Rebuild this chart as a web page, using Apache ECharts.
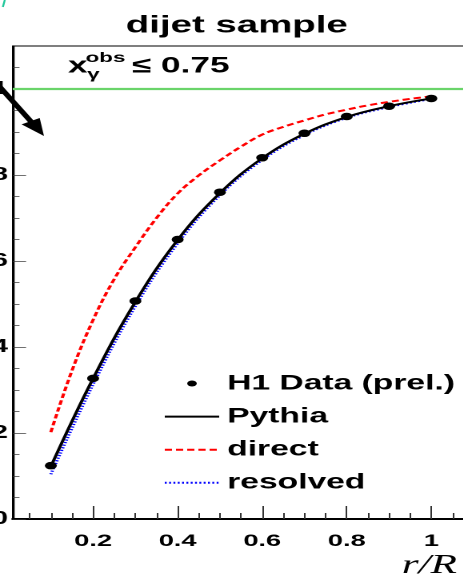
<!DOCTYPE html>
<html>
<head>
<meta charset="utf-8">
<script src="https://cdn.jsdelivr.net/npm/echarts@6/dist/echarts.min.js"></script>
<style>
  html, body { margin: 0; padding: 0; background: #fff; overflow: hidden; }
  /* the reference is stretched sideways, so the whole chart is drawn narrow and scaled */
  #c { width: 290px; height: 579px; transform: scaleX(1.6); transform-origin: 0 0; }
</style>
</head>
<body>
<div id="c"></div>
<script>
const xVals = [0.1, 0.2, 0.3, 0.4, 0.5, 0.6, 0.7, 0.8, 0.9, 1.0]
const h1Data = [0.124, 0.327, 0.507, 0.650, 0.760, 0.840, 0.897, 0.936, 0.960, 0.978]
const pythiaY = [0.122, 0.327, 0.505, 0.649, 0.758, 0.839, 0.896, 0.935, 0.960, 0.978]
const resolvedY = [0.104, 0.313, 0.495, 0.641, 0.753, 0.835, 0.893, 0.933, 0.958, 0.977]
const directX = [0.1, 0.15, 0.2, 0.25, 0.3, 0.35, 0.4, 0.45, 0.5, 0.55, 0.6, 0.65, 0.7, 0.75, 0.8, 0.85, 0.9, 0.95, 1.0]
const directY = [0.202, 0.345, 0.463, 0.558, 0.632, 0.700, 0.757, 0.799, 0.834, 0.866, 0.894, 0.912, 0.927, 0.941, 0.952, 0.962, 0.970, 0.977, 0.983]
const refLineY = 1.0

const xTicks = [0.2, 0.4, 0.6, 0.8, 1.0]
const xTickLabels = ['0.2', '0.4', '0.6', '0.8', '1']
const xMinorTicks = [0.05, 0.1, 0.15, 0.25, 0.3, 0.35, 0.45, 0.5, 0.55, 0.65, 0.7, 0.75, 0.85, 0.9, 0.95, 1.05]
const yTicks = [0, 0.2, 0.4, 0.6, 0.8, 1.0]
const yTickLabels = ['0', '0.2', '0.4', '0.6', '0.8', '1']
const yMinorTicks = [0.05, 0.1, 0.15, 0.25, 0.3, 0.35, 0.45, 0.5, 0.55, 0.65, 0.7, 0.75, 0.85, 0.9, 0.95, 1.05]

const names = ['H1 Data (prel.)', 'Pythia', 'direct', 'resolved']
const FONT = '"Liberation Sans", Arial, sans-serif'

function pick(ticks, labels) {
  return v => {
    let best = 0
    ticks.forEach((t, i) => { if (Math.abs(t - v) < Math.abs(ticks[best] - v)) best = i })
    return labels[best]
  }
}
const zip = (xs, ys) => xs.map((x, i) => [x, ys[i]])

const chart = echarts.init(document.getElementById('c'), null, { renderer: 'canvas', devicePixelRatio: 2 })

const minorAxis = {
  type: 'value', min: 0.01, max: 1.1,
  axisLine: { show: false },
  axisLabel: { show: false },
  splitLine: { show: false }
}

chart.setOption({
  animation: false,
  backgroundColor: '#fff',
  title: {
    text: 'dijet sample',
    left: 143, top: 9, textAlign: 'center',
    textStyle: { fontFamily: FONT, fontWeight: 'bold', fontSize: 24, color: '#000' }
  },
  grid: {
    left: 8, width: 288, top: 46, bottom: 60,
    outerBoundsMode: 'none', containLabel: false,
    show: true, borderColor: '#000', borderWidth: 1, backgroundColor: 'transparent'
  },
  legend: {
    orient: 'vertical', left: 97, top: 368,
    itemWidth: 34, itemHeight: 6, itemGap: 12.1,
    selectedMode: false,
    data: [
      { name: names[0] },
      { name: names[1], itemStyle: { opacity: 0 } },
      { name: names[2], itemStyle: { opacity: 0 } },
      { name: names[3], itemStyle: { opacity: 0 } }
    ],
    textStyle: { fontFamily: FONT, fontWeight: 'bold', fontSize: 21, color: '#000' }
  },
  xAxis: [
    {
      type: 'value', min: 0.01, max: 1.1, position: 'bottom',
      axisLine: { onZero: false, lineStyle: { color: '#000', width: 2 } },
      axisTick: { inside: true, length: 13, customValues: xTicks, lineStyle: { color: '#333', width: 1 } },
      axisLabel: {
        customValues: xTicks, formatter: pick(xTicks, xTickLabels), margin: 14,
        fontFamily: FONT, fontWeight: 'bold', fontSize: 17, color: '#000'
      },
      splitLine: { show: false }
    },
    Object.assign({}, minorAxis, {
      position: 'bottom',
      axisTick: { inside: true, length: 6, customValues: xMinorTicks, lineStyle: { color: '#333', width: 1 } }
    })
  ],
  yAxis: [
    {
      type: 'value', min: 0, max: 1.1, position: 'left',
      axisLine: { onZero: false, lineStyle: { color: '#000', width: 1.3 } },
      axisTick: { inside: true, length: 8.3, customValues: yTicks, lineStyle: { color: '#333', width: 0.7 } },
      axisLabel: {
        customValues: yTicks, formatter: pick(yTicks, yTickLabels), margin: 3,
        fontFamily: FONT, fontWeight: 'bold', fontSize: 18, color: '#000'
      },
      splitLine: { show: false }
    },
    Object.assign({}, minorAxis, {
      min: 0, position: 'left',
      axisTick: { inside: true, length: 4.2, customValues: yMinorTicks, lineStyle: { color: '#333', width: 0.7 } }
    })
  ],
  graphic: [
    { type: 'line', shape: { x1: 1.8, y1: 7, x2: 3, y2: 0 }, style: { stroke: '#1fc79a', lineWidth: 1.2 } },
    { type: 'text', x: 42.5, y: 55.5, style: { text: 'x', font: 'bold 22px ' + FONT, fill: '#000', verticalAlign: 'top' } },
    { type: 'text', x: 53.5, y: 51.2, style: { text: 'obs', font: 'bold 14px ' + FONT, fill: '#000', verticalAlign: 'top' } },
    { type: 'text', x: 54.5, y: 67.5, style: { text: 'γ', font: 'bold 14px ' + FONT, fill: '#000', verticalAlign: 'top' } },
    { type: 'text', x: 82.5, y: 55.5, style: { text: '≤ 0.75', font: 'bold 22px ' + FONT, fill: '#000', verticalAlign: 'top' } },
    { type: 'text', x: 285.6, y: 552.5, style: { text: 'r/R', font: 'italic 27px "Liberation Serif", "Times New Roman", serif', fill: '#000', align: 'right', verticalAlign: 'top' } }
  ],
  series: [
    {
      name: 'ref', type: 'line', z: 1, silent: true, clip: false,
      symbol: 'none',
      data: [[0.01, refLineY], [1.1, refLineY]],
      lineStyle: { color: '#6ad46a', width: 2.2 },
      markLine: {
        silent: true,
        symbol: ['none', 'triangle'],
        symbolSize: [13, 17],
        label: { show: false },
        lineStyle: { color: '#000', width: 3.8, type: 'solid' },
        data: [[{ x: -4, y: 80 }, { coord: [0.068, 0.908] }]]
      }
    },
    {
      name: 'Pythia', type: 'line', z: 3, symbol: 'none', smooth: 0.4,
      data: zip(xVals, pythiaY),
      itemStyle: { color: '#000' },
      lineStyle: { color: '#000', width: 2 }
    },
    {
      name: 'direct', type: 'line', z: 2, symbol: 'none', smooth: 0.4,
      data: zip(directX, directY),
      itemStyle: { color: '#ff0000' },
      lineStyle: { color: '#ff0000', width: 2, type: [4.5, 2.5] }
    },
    {
      name: 'resolved', type: 'line', z: 2, symbol: 'none', smooth: 0.4,
      data: zip(xVals, resolvedY),
      itemStyle: { color: '#0000ff' },
      lineStyle: { color: '#0000ff', width: 2, type: [1.2, 1.5] }
    },
    {
      name: 'H1 Data (prel.)', type: 'scatter', z: 5,
      symbol: 'circle', symbolSize: 7.5,
      data: zip(xVals, h1Data),
      itemStyle: { color: '#000', opacity: 1 }
    }
  ]
})
</script>
</body>
</html>
